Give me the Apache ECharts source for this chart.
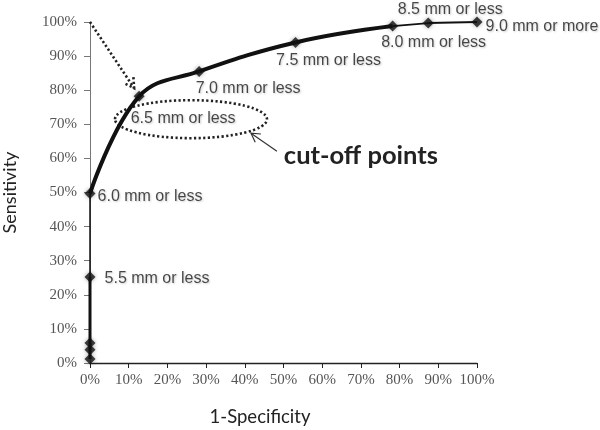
<!DOCTYPE html>
<html>
<head>
<meta charset="utf-8">
<script src="https://cdn.jsdelivr.net/npm/echarts@6/dist/echarts.min.js"></script>
<style>
html,body{margin:0;padding:0;background:#fff;}
#chart{width:600px;height:430px;}
</style>
</head>
<body>
<div id="chart"></div>
<script>
// ---- data ----
const cutoffLabels = ['', '', '', '5.5 mm or less', '6.0 mm or less', '6.5 mm or less', '7.0 mm or less', '7.5 mm or less', '8.0 mm or less', '8.5 mm or less', '9.0 mm or more'];
const oneMinusSpecificity = [0, 0, 0, 0, 0, 12.7, 28.2, 53.1, 78.2, 87.4, 100];
const sensitivity = [1.2, 3.9, 5.9, 25.2, 49.7, 78.2, 85.5, 94.0, 98.8, 99.7, 100];
const xTickValues = [0, 10, 20, 30, 40, 50, 60, 70, 80, 90, 100];
const yTickValues = [0, 10, 20, 30, 40, 50, 60, 70, 80, 90, 100];
const xAxisTitle = '1-Specificity';
const yAxisTitle = 'Sensitivity';
const annotationText = 'cut-off points';

// ---- label placement (offsets from each point, px) ----
const labelOffsets = [null, null, null, [67, 2], [60, 3], [44, 22], [49, 17], [33, 18], [41, 17], [22, -13], [65, 5]];

const pts = oneMinusSpecificity.map((x, i) => [x, sensitivity[i]]);
const seg = (a, b) => pts.slice(a, b + 1);

const chart = echarts.init(document.getElementById('chart'), null, {renderer: 'canvas'});
const lineColor = '#111';
const serif = "'Liberation Serif', 'DejaVu Serif', serif";
const option = {
  animation: false,
  grid: {left: 90, right: 123, top: 22, bottom: 67, containLabel: false, outerBoundsMode: 'none'},
  xAxis: {
    type: 'value', min: 0, max: 100, interval: 10,
    name: xAxisTitle, nameLocation: 'middle', nameGap: 45,
    nameTextStyle: {fontFamily: 'Lato', fontSize: 18.5, color: '#222', padding: [0, 47, 0, 0]},
    axisLine: {show: true, lineStyle: {color: '#222', width: 1.3}},
    axisTick: {show: true, inside: false, length: 5, lineStyle: {color: '#222'}},
    axisLabel: {formatter: v => xTickValues.includes(v) ? v + '%' : '', fontFamily: serif, fontSize: 15, color: '#555', margin: 10},
    splitLine: {show: false}
  },
  yAxis: {
    type: 'value', min: 0, max: 100, interval: 10,
    name: yAxisTitle, nameLocation: 'middle', nameGap: 71,
    nameTextStyle: {fontFamily: 'Lato', fontSize: 18, color: '#222'},
    axisLine: {show: true, lineStyle: {color: '#777', width: 1}},
    axisTick: {show: true, inside: false, length: 6, lineStyle: {color: '#777'}},
    axisLabel: {formatter: v => yTickValues.includes(v) ? v + '%' : '', fontFamily: serif, fontSize: 15, color: '#555', margin: 13},
    splitLine: {show: false}
  },
  series: [
    {type: 'line', data: seg(0, 3), showSymbol: false, lineStyle: {color: lineColor, width: 3}, z: 3},
    {type: 'line', data: seg(3, 4), showSymbol: false, lineStyle: {color: lineColor, width: 1.5}, z: 3},
    {type: 'line', data: seg(4, 8), smooth: 0.4, showSymbol: false, lineStyle: {color: lineColor, width: 4}, z: 3},
    {type: 'line', data: seg(8, 10), showSymbol: false, lineStyle: {color: lineColor, width: 1.8}, z: 3},
    {
      type: 'scatter', z: 5,
      symbol: 'diamond', symbolSize: 11,
      itemStyle: {color: '#111', shadowBlur: 4, shadowColor: 'rgba(0,0,0,0.4)'},
      data: pts.map((p, i) => ({
        value: p,
        label: labelOffsets[i] ? {
          show: true, formatter: cutoffLabels[i], position: 'inside', offset: labelOffsets[i],
          fontFamily: "'Liberation Sans', Arial, sans-serif", fontSize: 16, color: '#1a1a1a',
          textShadowColor: 'rgba(0,0,0,0.25)', textShadowBlur: 2, textShadowOffsetX: 1, textShadowOffsetY: 1
        } : {show: false}
      }))
    }
  ]
};
chart.setOption(option);

// ---- annotations placed in data coordinates ----
const P = (x, y) => chart.convertToPixel({gridIndex: 0}, [x, y]);
function arrowHead(tip, from, len, ang) {
  const dx = from[0] - tip[0], dy = from[1] - tip[1];
  const d = Math.hypot(dx, dy), ux = dx / d, uy = dy / d;
  const rot = (a) => [tip[0] + len * (ux * Math.cos(a) - uy * Math.sin(a)), tip[1] + len * (ux * Math.sin(a) + uy * Math.cos(a))];
  return [rot(ang), tip, rot(-ang)];
}
const dotStyle = {stroke: '#222', lineWidth: 2.6, lineDash: [2.2, 2.4], fill: 'none'};
const aStart = P(0, 100), aEnd = P(11.4, 80.6);
const c = P(26.1, 71.5);
const tStart = P(48.3, 62.1), tEnd = P(41.6, 67.4);
const txt = P(70.0, 60.9);
chart.setOption({
  graphic: [
    {type: 'polyline', shape: {points: [aStart, aEnd]}, style: dotStyle, z: 2},
    {type: 'polyline', shape: {points: arrowHead(aEnd, aStart, 11, Math.PI / 6)}, style: dotStyle, z: 2},
    {type: 'ellipse', shape: {cx: c[0], cy: c[1], rx: 76, ry: 19}, style: dotStyle, z: 2},
    {type: 'polyline', shape: {points: [tStart, tEnd]}, style: {stroke: '#333', lineWidth: 1.2, fill: 'none'}, z: 2},
    {type: 'polyline', shape: {points: arrowHead(tEnd, tStart, 10, Math.PI / 6)}, style: {stroke: '#333', lineWidth: 1.2, fill: 'none'}, z: 2},
    {type: 'text', x: txt[0], y: txt[1], style: {text: annotationText, fontFamily: 'Lato', fontWeight: 'bold', fontSize: 25.5, fill: '#222', align: 'center', verticalAlign: 'middle'}, z: 6}
  ]
});
</script>
</body>
</html>
